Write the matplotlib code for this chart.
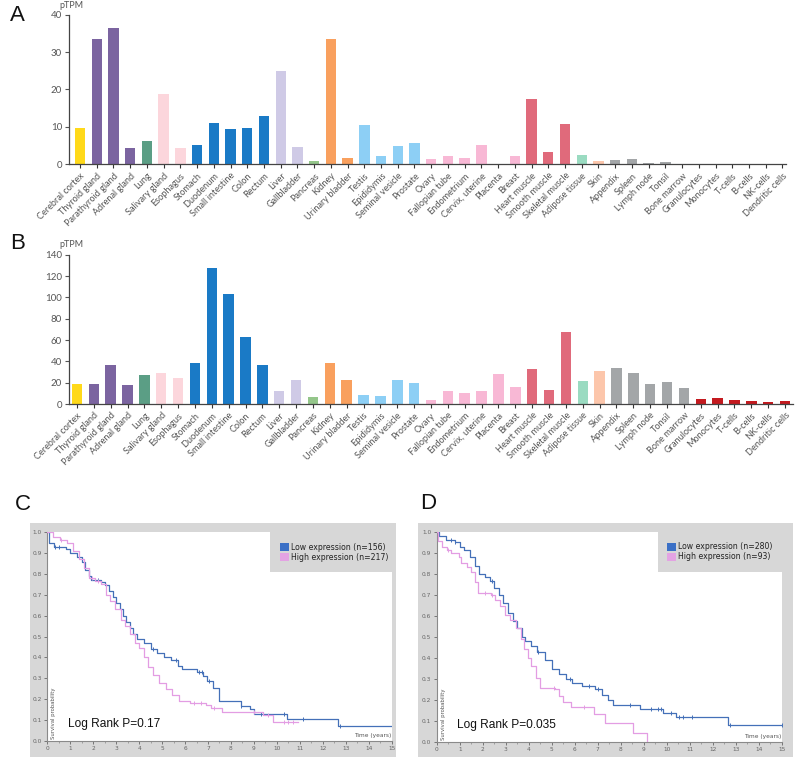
import numpy as np
import matplotlib.pyplot as plt
from matplotlib.patches import Rectangle

# tissue names shared by panel A and B
tissues = ["Cerebral cortex", "Thyroid gland", "Parathyroid gland", "Adrenal gland",
           "Lung", "Salivary gland", "Esophagus", "Stomach", "Duodenum",
           "Small intestine", "Colon", "Rectum", "Liver", "Gallbladder", "Pancreas",
           "Kidney", "Urinary bladder", "Testis", "Epididymis", "Seminal vesicle",
           "Prostate", "Ovary", "Fallopian tube", "Endometrium", "Cervix, uterine",
           "Placenta", "Breast", "Heart muscle", "Smooth muscle", "Skeletal muscle",
           "Adipose tissue", "Skin", "Appendix", "Spleen", "Lymph node", "Tonsil",
           "Bone marrow", "Granulocytes", "Monocytes", "T-cells", "B-cells",
           "NK-cells", "Dendritic cells"]

# one colour per tissue group
tissue_colors = (["#ffd91a"] + ["#7b64a0"] * 3 + ["#5b9e85"] + ["#fcd6dc"] * 2 +
                 ["#1a7ac6"] * 5 + ["#cfcae6"] * 2 + ["#94c68a"] + ["#f9a05e"] * 2 +
                 ["#8dcff5"] * 4 + ["#f8b8d5"] * 6 + ["#e06a7b"] * 3 + ["#9adbc1"] +
                 ["#fcc6ab"] + ["#a3a6a8"] * 5 + ["#c41a1f"] * 6)

# panel A expression (pTPM)
ptpm_a = [9.6, 33.4, 36.3, 4.4, 6.1, 18.8, 4.4, 5.2, 11.0, 9.4, 9.8, 12.8, 24.9,
          4.7, 0.8, 33.4, 1.6, 10.5, 2.3, 4.9, 5.8, 1.4, 2.3, 1.8, 5.2, 0.0, 2.1,
          17.4, 3.2, 10.8, 2.4, 0.9, 1.2, 1.4, 0.3, 0.6, 0, 0, 0, 0, 0, 0, 0]

# panel B expression (pTPM)
ptpm_b = [18.8, 18.8, 36.3, 17.8, 27.2, 29.1, 24.7, 38.4, 127.2, 102.8, 62.8, 36.6,
          12.5, 22.5, 6.9, 38.1, 22.5, 8.4, 7.8, 22.2, 19.4, 3.4, 12.5, 10.6, 12.2,
          27.8, 15.9, 33.1, 13.1, 67.2, 21.6, 30.9, 34.1, 29.1, 19.1, 20.6, 15.0,
          5.0, 5.6, 4.1, 2.8, 2.2, 2.8]

# Kaplan-Meier curves: time of each drop and survival after it
c_low_t = [0, 0.08, 0.3, 0.8, 1.0, 1.3, 1.5, 1.65, 1.8, 1.9, 2.35, 2.5, 2.7, 2.85, 3.0,
           3.15, 3.3, 3.45, 3.6, 3.75, 3.9, 4.2, 4.5, 4.8, 5.1, 5.4, 5.7, 5.85, 6.5,
           6.8, 6.95, 7.2, 7.5, 8.45, 8.85, 9.0, 10.45, 12.65, 15.0]
c_low_s = [1.0, 0.95, 0.93, 0.92, 0.90, 0.88, 0.86, 0.82, 0.79, 0.77, 0.76, 0.745, 0.72,
           0.69, 0.66, 0.63, 0.60, 0.57, 0.54, 0.51, 0.49, 0.47, 0.44, 0.42, 0.40, 0.385,
           0.36, 0.345, 0.33, 0.31, 0.285, 0.255, 0.19, 0.165, 0.15, 0.13, 0.105, 0.07, 0.07]
c_high_t = [0, 0.25, 0.55, 0.85, 1.1, 1.4, 1.6, 1.8, 2.1, 2.35, 2.55, 2.75, 2.95, 3.2,
            3.4, 3.6, 3.8, 4.0, 4.2, 4.4, 4.6, 4.85, 5.15, 5.45, 5.75, 6.2, 6.9, 7.15,
            7.6, 9.4, 9.85, 10.9]
c_high_s = [1.0, 0.98, 0.965, 0.95, 0.91, 0.87, 0.83, 0.78, 0.765, 0.75, 0.70, 0.67, 0.63,
            0.58, 0.55, 0.51, 0.47, 0.445, 0.40, 0.355, 0.315, 0.275, 0.25, 0.22, 0.19,
            0.182, 0.17, 0.155, 0.138, 0.125, 0.09, 0.09]
c_low_cens = [0.35, 0.5, 2.2, 3.6, 4.6, 5.6, 6.6, 6.75, 7.05, 8.45, 9.3, 10.3, 11.15, 12.75]
c_high_cens = [0.6, 1.95, 2.2, 6.4, 6.7, 7.25, 9.0, 9.6, 10.3, 10.5, 10.7]

d_low_t = [0, 0.1, 0.4, 0.8, 1.0, 1.2, 1.45, 1.65, 1.85, 2.1, 2.3, 2.5, 2.7, 2.9, 3.1,
           3.3, 3.5, 3.7, 3.85, 4.1, 4.35, 4.7, 5.0, 5.3, 5.6, 5.9, 6.3, 6.9, 7.2, 7.45,
           7.65, 8.85, 9.85, 10.4, 12.65, 15.0]
d_low_s = [1.0, 0.98, 0.962, 0.954, 0.93, 0.915, 0.88, 0.84, 0.80, 0.785, 0.765, 0.735,
           0.70, 0.66, 0.615, 0.575, 0.54, 0.50, 0.48, 0.455, 0.43, 0.39, 0.345, 0.325,
           0.30, 0.28, 0.265, 0.25, 0.225, 0.20, 0.175, 0.155, 0.138, 0.12, 0.08, 0.08]
d_high_t = [0, 0.05, 0.25, 0.45, 0.6, 0.95, 1.05, 1.3, 1.5, 1.65, 1.8, 2.35, 2.55, 2.75,
            2.95, 3.2, 3.45, 3.65, 3.8, 3.95, 4.1, 4.3, 4.5, 5.15, 5.3, 5.5, 5.85, 6.85,
            7.3, 8.55, 9.13]
d_high_s = [1.0, 0.955, 0.93, 0.915, 0.90, 0.88, 0.85, 0.835, 0.81, 0.76, 0.71, 0.70,
            0.675, 0.645, 0.605, 0.58, 0.54, 0.49, 0.44, 0.40, 0.36, 0.305, 0.255, 0.25,
            0.22, 0.19, 0.165, 0.13, 0.088, 0.043, 0.0]
d_low_cens = [0.6, 0.8, 2.4, 4.4, 5.8, 6.6, 7.0, 8.4, 9.3, 9.6, 9.75, 10.2, 10.55, 10.7,
              11.1, 12.75, 15.0]
d_high_cens = [0.5, 2.1, 2.4, 5.1, 6.4]

blue = "#4470b8"
pink = "#e39de3"
frame_gray = "#d7d7d7"
label_gray = "#555555"

fig = plt.figure(figsize=(8, 7.63), dpi=100)


def bar_panel(rect, values, ymax, yticks, xlim, ptpm_y):
    ax = fig.add_axes(rect)
    x = np.arange(len(tissues))
    ax.bar(x, values, width=0.62, color=tissue_colors)
    ax.set_xlim(*xlim)
    ax.set_ylim(0, ymax)
    ax.set_yticks(yticks)
    ax.set_xticks(x)
    ax.set_xticklabels(tissues, rotation=45, ha="right", va="top",
                       rotation_mode="anchor", fontsize=6.6, color=label_gray,
                       family="Lato")
    for lab in ax.get_yticklabels():
        lab.set_family("Lato")
    ax.tick_params(axis="y", labelsize=7, colors=label_gray, length=3, width=0.8,
                   pad=2)
    ax.tick_params(axis="x", length=3, width=0.8, color="#333333", pad=2)
    for s in ["top", "right"]:
        ax.spines[s].set_visible(False)
    for s in ["left", "bottom"]:
        ax.spines[s].set_color("#444444")
        ax.spines[s].set_linewidth(0.9)
    ax.text(0.003, ptpm_y, "pTPM", transform=ax.transAxes, ha="center",
            va="center", fontsize=6.5, color=label_gray, family="Lato")
    return ax


bar_panel([0.08625, 0.7847, 0.896, 0.1961], ptpm_a, 40, [0, 10, 20, 30, 40],
          (-0.657, 42.2), 1.062)
bar_panel([0.08625, 0.4705, 0.905, 0.1957], ptpm_b, 140,
          [0, 20, 40, 60, 80, 100, 120, 140], (-0.47, 42.47), 1.065)


def km_panel(frame_rect, ax_rect, low, high, n_low, n_high, pval, notch_x):
    # grey background frame
    bg = fig.add_axes(frame_rect)
    bg.set_facecolor(frame_gray)
    bg.set_xticks([])
    bg.set_yticks([])
    for s in bg.spines.values():
        s.set_visible(False)

    ax = fig.add_axes(ax_rect)
    ax.set_facecolor("white")
    ax.set_xlim(0, 15)
    ax.set_ylim(0, 1)

    for (t, s, cens), col in [(low, blue), (high, pink)]:
        ax.step(t, s, where="post", color=col, lw=0.9, zorder=3)
        t_arr = np.array(t)
        idx = np.searchsorted(t_arr, cens, side="right") - 1
        ax.plot(cens, np.array(s)[idx], ls="none", marker="|", ms=3.2,
                mew=0.7, color=col, zorder=3)

    # legend box sits on grey notch in the top right corner
    ax.add_patch(Rectangle((notch_x, 0.81), 1.0 - notch_x, 0.2,
                           transform=ax.transAxes, facecolor=frame_gray,
                           edgecolor="none", clip_on=False, zorder=4))
    sq_x = notch_x + 0.028
    ax.add_patch(Rectangle((sq_x, 0.91), 0.026, 0.038, transform=ax.transAxes,
                           facecolor="#3b70c6", edgecolor="none", zorder=5))
    ax.add_patch(Rectangle((sq_x, 0.863), 0.026, 0.038, transform=ax.transAxes,
                           facecolor="#e3a3e3", edgecolor="none", zorder=5))
    ax.text(sq_x + 0.032, 0.929, "Low expression (n=%d)" % n_low,
            transform=ax.transAxes, fontsize=5.6, va="center", ha="left",
            color="#222222", zorder=6)
    ax.text(sq_x + 0.032, 0.881, "High expression (n=%d)" % n_high,
            transform=ax.transAxes, fontsize=5.6, va="center", ha="left",
            color="#222222", zorder=6)

    ax.text(0.06, 0.08, "Log Rank P=" + pval, transform=ax.transAxes,
            fontsize=8.6, family="Liberation Sans", va="center", ha="left",
            color="#111111")
    ax.text(0.012, 0.01, "Survival probability", transform=ax.transAxes,
            rotation=90, fontsize=3.8, va="bottom", ha="left", color="#555555")
    ax.text(0.998, 0.012, "Time (years)", transform=ax.transAxes,
            fontsize=4.2, va="bottom", ha="right", color="#555555")

    ax.set_xticks(np.arange(0, 16, 1))
    ax.set_xticks(np.arange(0.5, 15, 1), minor=True)
    ax.set_yticks(np.arange(0, 1.01, 0.1))
    ax.set_yticklabels(["%.1f" % v for v in np.arange(0, 1.01, 0.1)])
    ax.tick_params(which="major", labelsize=4.2, colors="#666666", length=2.5,
                   width=0.6, pad=1.5)
    ax.tick_params(which="minor", length=1.3, width=0.5, colors="#888888")
    for s in ["top", "right"]:
        ax.spines[s].set_visible(False)
    for s in ["left", "bottom"]:
        ax.spines[s].set_color("#8a8a8a")
        ax.spines[s].set_linewidth(0.8)
    return ax


km_panel([0.0375, 0.0079, 0.4575, 0.3067], [0.0591, 0.0292, 0.4305, 0.2731],
         (c_low_t, c_low_s, c_low_cens), (c_high_t, c_high_s, c_high_cens),
         156, 217, "0.17", 0.647)
km_panel([0.5225, 0.0079, 0.4688, 0.3067], [0.5459, 0.0279, 0.43125, 0.2748],
         (d_low_t, d_low_s, d_low_cens), (d_high_t, d_high_s, d_high_cens),
         280, 93, "0.035", 0.64)

# panel letters
for lx, ly, letter in [(0.0125, 0.9803, "A"), (0.0125, 0.6809, "B"),
                       (0.019, 0.3388, "C"), (0.525, 0.3401, "D")]:
    fig.text(lx, ly, letter, fontsize=16, family="Liberation Sans", va="center",
             ha="left", color="#111111")

fig.savefig("out.png", dpi=100)
